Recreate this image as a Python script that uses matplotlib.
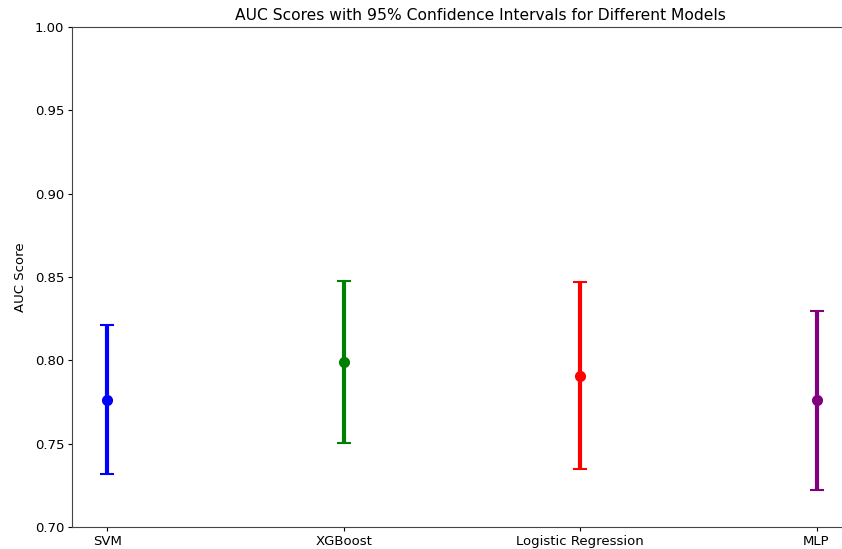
import matplotlib
matplotlib.use("Agg")
import matplotlib.pyplot as plt

models = ["SVM", "XGBoost", "Logistic Regression", "MLP"]
auc = [0.7762, 0.7992, 0.7906, 0.7760]
ci_low = [0.7318, 0.7502, 0.7346, 0.7220]
ci_high = [0.8212, 0.8478, 0.8468, 0.8296]
colors = ["blue", "green", "red", "purple"]

fig = plt.figure(figsize=(8.42, 5.49), dpi=100)
ax = fig.add_axes([72 / 842, 22 / 549, 780 / 842, 500 / 549])

for i, (m, a, lo, hi, c) in enumerate(zip(models, auc, ci_low, ci_high, colors)):
    ax.errorbar(i, a, yerr=[[a - lo], [hi - a]], fmt="o", color=c,
                ecolor=c, elinewidth=3, capsize=5, capthick=1.5,
                markersize=7)

ax.set_xticks(range(len(models)))
ax.set_xticklabels(models)
ax.set_xlim(-0.15, 3.15)
ax.set_ylim(0.70, 1.00)
ax.tick_params(axis="both", labelsize=9.5, length=3, pad=2.5)
for sp in ax.spines.values():
    sp.set_color("#444444")
ax.set_ylabel("AUC Score", fontsize=9.5, labelpad=6)
ax.set_title("AUC Scores with 95% Confidence Intervals for Different Models",
             fontsize=11.2, x=0.523, pad=5)

fig.savefig("out.png", dpi=100)
